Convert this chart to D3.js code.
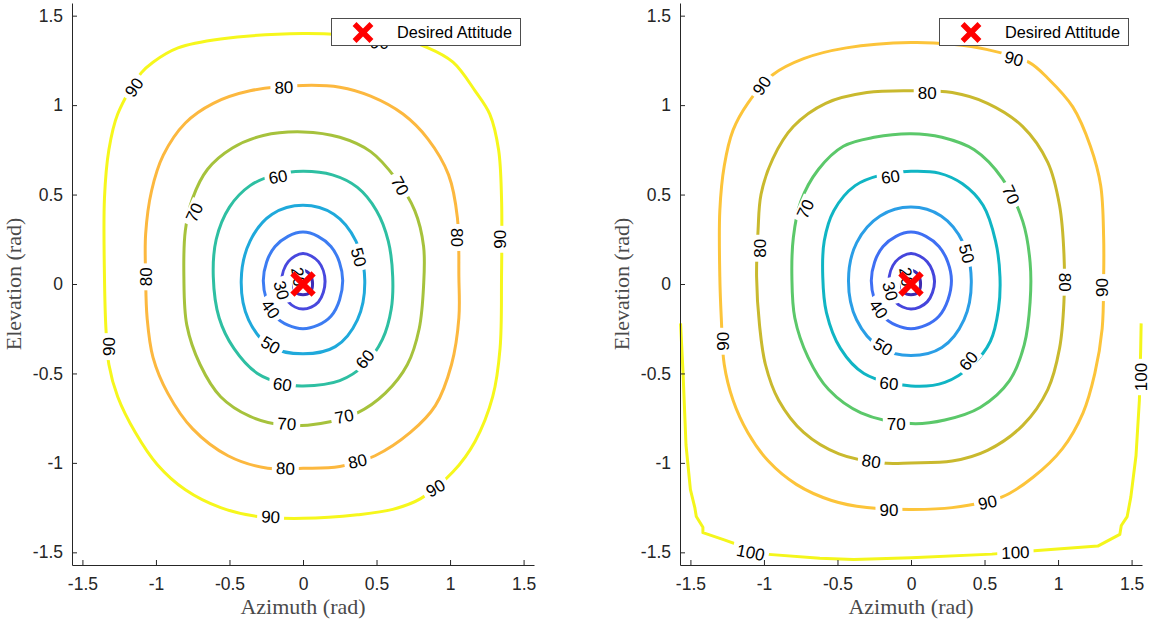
<!DOCTYPE html>
<html>
<head>
<meta charset="utf-8">
<script src="https://cdn.jsdelivr.net/npm/d3@7"></script>
<style>
  body { margin: 0; background: #fff; }
  svg { display: block; }
</style>
</head>
<body>
<svg id="chart" width="1152" height="623"></svg>
<script>
// ticks shared by both panels (rad)
var tickVals = [-1.5, -1, -0.5, 0, 0.5, 1, 1.5];
var tickText = ["-1.5", "-1", "-0.5", "0", "0.5", "1", "1.5"];

// desired attitude marker
var target = [0, 0];

// ---- left panel contours, [azimuth, elevation]
var L20 = [[0, 0.075], [0.05, 0.05], [0.065, 0], [0.05, -0.045], [0, -0.06], [-0.05, -0.045], [-0.065, 0], [-0.05, 0.05]];
var L30 = [[0, 0.17], [0.105, 0.125], [0.15, 0.015], [0.105, -0.10], [0, -0.14], [-0.10, -0.10], [-0.145, 0.015], [-0.10, 0.125]];
var L40 = [[0, 0.29], [0.19, 0.21], [0.27, 0.02], [0.19, -0.18], [0, -0.25], [-0.19, -0.18], [-0.27, 0.02], [-0.19, 0.21]];
var L50 = [[0, 0.44], [0.21, 0.39], [0.36, 0.24], [0.42, 0.02], [0.37, -0.20], [0.22, -0.35], [0, -0.39], [-0.22, -0.35],
    [-0.37, -0.20], [-0.42, 0.02], [-0.36, 0.24], [-0.21, 0.39]];
var L60 = [[0, 0.63], [0.20, 0.61], [0.37, 0.54], [0.50, 0.41], [0.58, 0.24], [0.61, 0.04], [0.60, -0.14], [0.54, -0.31], [0.42, -0.45],
    [0.25, -0.54], [0, -0.57], [-0.12, -0.56], [-0.31, -0.50], [-0.47, -0.36], [-0.57, -0.19], [-0.61, 0.04], [-0.59, 0.25],
    [-0.50, 0.43], [-0.36, 0.55], [-0.19, 0.61]];
var L70 = [[0, 0.85], [0.25, 0.82], [0.46, 0.74], [0.63, 0.59], [0.76, 0.41], [0.82, 0.21], [0.82, -0.01], [0.79, -0.25], [0.71, -0.45],
    [0.56, -0.61], [0.37, -0.72], [0.12, -0.78], [-0.12, -0.79], [-0.36, -0.74], [-0.56, -0.63], [-0.70, -0.45], [-0.79, -0.23],
    [-0.81, 0.04], [-0.80, 0.30], [-0.75, 0.48], [-0.65, 0.64], [-0.48, 0.76], [-0.27, 0.83]];
var L80 = [[0, 1.11], [0.25, 1.10], [0.46, 1.05], [0.68, 0.95], [0.85, 0.81], [0.99, 0.61], [1.05, 0.37], [1.06, 0.04], [1.06, -0.19],
    [1.01, -0.45], [0.90, -0.68], [0.73, -0.83], [0.49, -0.96], [0.25, -1.02], [0, -1.03], [-0.24, -1.03], [-0.51, -0.96],
    [-0.75, -0.81], [-0.92, -0.61], [-1.02, -0.41], [-1.06, -0.19], [-1.07, 0.04], [-1.07, 0.28], [-1.03, 0.52], [-0.95, 0.72],
    [-0.80, 0.90], [-0.61, 1.01], [-0.36, 1.08]];
var L90 = [[0, 1.40], [0.37, 1.39], [0.61, 1.38], [0.85, 1.32], [1.02, 1.24], [1.17, 1.08], [1.27, 0.95], [1.33, 0.75], [1.35, 0.48],
    [1.35, 0.04], [1.34, -0.36], [1.29, -0.63], [1.17, -0.88], [1.02, -1.05], [0.80, -1.20], [0.61, -1.26], [0.37, -1.29],
    [0, -1.31], [-0.31, -1.30], [-0.56, -1.25], [-0.80, -1.15], [-0.99, -1.01], [-1.14, -0.83], [-1.26, -0.63], [-1.32, -0.45],
    [-1.34, -0.25], [-1.35, 0.04], [-1.35, 0.48], [-1.32, 0.75], [-1.26, 0.95], [-1.10, 1.18], [-1.02, 1.24], [-0.85, 1.32],
    [-0.56, 1.37]];

// [level, azimuth, elevation, rotation deg]
var labelsL = [
    [90, 0.52, 1.35, 3], [90, -1.15, 1.10, -55], [90, 1.34, 0.25, -90], [90, -1.32, -0.35, -90], [90, 0.90, -1.14, -30], [90, -0.22, -1.30, 3],
    [80, -0.13, 1.10, -2], [80, 1.05, 0.26, 90], [80, -1.07, 0.04, -90], [80, -0.12, -1.03, 2], [80, 0.37, -0.99, -12],
    [70, -0.74, 0.40, -65], [70, 0.66, 0.55, 62], [70, -0.11, -0.78, 3], [70, 0.28, -0.74, -12],
    [60, -0.17, 0.60, -10], [60, -0.14, -0.56, 8], [60, 0.42, -0.42, -50],
    [50, 0.38, 0.15, 75], [50, -0.22, -0.34, 30],
    [40, -0.22, -0.14, 55],
    [30, -0.145, -0.035, 75],
    [20, -0.03, 0.04, 80]
];

// ---- right panel contours
var R20 = [[0, 0.075], [0.05, 0.05], [0.065, 0], [0.05, -0.045], [0, -0.06], [-0.05, -0.045], [-0.065, 0], [-0.05, 0.05]];
var R30 = [[0, 0.17], [0.11, 0.125], [0.16, 0.015], [0.11, -0.10], [0, -0.14], [-0.105, -0.10], [-0.15, 0.015], [-0.105, 0.125]];
var R40 = [[0, 0.29], [0.19, 0.21], [0.275, 0.02], [0.19, -0.18], [0, -0.25], [-0.19, -0.18], [-0.27, 0.02], [-0.19, 0.21]];
var R50 = [[0, 0.43], [0.205, 0.38], [0.355, 0.23], [0.41, 0.02], [0.36, -0.20], [0.21, -0.355], [0, -0.40], [-0.21, -0.355],
    [-0.37, -0.20], [-0.425, 0.02], [-0.37, 0.23], [-0.21, 0.38]];
var R60 = [[0, 0.63], [0.19, 0.62], [0.35, 0.56], [0.49, 0.44], [0.575, 0.24], [0.605, 0.04], [0.595, -0.14], [0.54, -0.32], [0.42, -0.45],
    [0.23, -0.55], [0, -0.57], [-0.32, -0.50], [-0.48, -0.36], [-0.575, -0.16], [-0.60, 0.04], [-0.59, 0.24], [-0.525, 0.41],
    [-0.38, 0.55], [-0.20, 0.61]];
var R70 = [[0, 0.84], [0.21, 0.82], [0.43, 0.75], [0.62, 0.59], [0.76, 0.35], [0.81, 0.12], [0.81, -0.10], [0.77, -0.34], [0.67, -0.54],
    [0.47, -0.69], [0.23, -0.76], [0, -0.78], [-0.34, -0.72], [-0.56, -0.59], [-0.70, -0.41], [-0.79, -0.19], [-0.81, 0.04],
    [-0.80, 0.26], [-0.75, 0.46], [-0.63, 0.64], [-0.46, 0.77], [-0.25, 0.82]];
var R80 = [[0, 1.08], [0.28, 1.07], [0.52, 1.01], [0.76, 0.88], [0.93, 0.68], [1.01, 0.44], [1.04, 0.17], [1.04, -0.10], [1.01, -0.36],
    [0.93, -0.59], [0.76, -0.79], [0.52, -0.93], [0.28, -0.99], [0, -1.00], [-0.20, -1.00], [-0.49, -0.95], [-0.73, -0.83],
    [-0.90, -0.65], [-0.99, -0.45], [-1.03, -0.23], [-1.05, 0.04], [-1.04, 0.30], [-1.02, 0.50], [-0.94, 0.70], [-0.80, 0.88],
    [-0.58, 1.01], [-0.30, 1.07]];
var R90 = [[0, 1.35], [0.28, 1.34], [0.52, 1.31], [0.80, 1.24], [0.93, 1.15], [1.10, 0.99], [1.22, 0.77], [1.29, 0.55], [1.31, 0.26],
    [1.31, 0.04], [1.30, -0.25], [1.25, -0.50], [1.17, -0.72], [1.03, -0.92], [0.83, -1.08], [0.62, -1.19], [0.28, -1.25],
    [0, -1.26], [-0.30, -1.25], [-0.54, -1.21], [-0.78, -1.12], [-0.97, -0.99], [-1.11, -0.83], [-1.21, -0.65], [-1.27, -0.45],
    [-1.29, -0.19], [-1.30, 0.04], [-1.30, 0.41], [-1.27, 0.66], [-1.21, 0.86], [-1.11, 1.01], [-0.94, 1.17], [-0.73, 1.26],
    [-0.44, 1.32]];
// open contour, runs off the left and right edges
var R100 = [[-1.567, -0.22], [-1.55, -0.50], [-1.53, -0.90], [-1.50, -1.15], [-1.47, -1.25], [-1.46, -1.30], [-1.415, -1.36],
    [-1.415, -1.39], [-1.27, -1.43], [-1.10, -1.48], [-0.99, -1.51], [-0.62, -1.533], [-0.39, -1.54], [0, -1.53], [0.55, -1.51],
    [0.86, -1.49], [1.27, -1.465], [1.42, -1.40], [1.43, -1.35], [1.47, -1.30], [1.495, -1.19], [1.53, -0.96], [1.553, -0.65],
    [1.562, -0.36], [1.565, -0.22]];

var labelsR = [
    [100, -1.09, -1.50, 12], [100, 0.71, -1.50, -2], [100, 1.565, -0.52, -90],
    [90, 0.70, 1.26, 15], [90, -1.015, 1.11, -55], [90, -1.28, -0.32, -90], [90, 1.30, -0.02, -90], [90, -0.15, -1.26, 0], [90, 0.52, -1.22, -12],
    [80, 0.11, 1.07, 0], [80, -1.03, 0.20, -90], [80, 1.05, 0.01, 90], [80, -0.27, -0.99, 8],
    [70, -0.72, 0.42, -65], [70, 0.68, 0.50, 65], [70, -0.10, -0.78, 0],
    [60, -0.14, 0.60, -8], [60, -0.15, -0.555, 5], [60, 0.39, -0.43, -50],
    [50, 0.38, 0.17, 75], [50, -0.19, -0.35, 30],
    [40, -0.22, -0.14, 55],
    [30, -0.14, -0.04, 75],
    [20, -0.03, 0.04, 80]
];

// parula-ish colours per level
var colorL = {20: "#3e2db8", 30: "#4848de", 40: "#3c7cf2", 50: "#1fa9db", 60: "#2ebfa2", 70: "#a6c23c", 80: "#fcb83f", 90: "#f6f71c"};
var colorR = {20: "#3e2bb0", 30: "#4545dc", 40: "#3e6ff3", 50: "#2a9ee6", 60: "#10b5c4", 70: "#5bc86a", 80: "#c9b92e", 90: "#fcc43a", 100: "#f4f61b"};

var svg = d3.select("#chart");
var top0 = 3, bot0 = 565;
var axisColor = "#262626";
var sans = "'Liberation Sans', Arial, Helvetica, sans-serif";
var serif = "'Liberation Serif', 'Times New Roman', serif";

function drawPanel(x0, x1, closed, open, labels, colors) {
    var x = d3.scaleLinear().domain([-Math.PI / 2, Math.PI / 2]).range([x0, x1]);
    var y = d3.scaleLinear().domain([-Math.PI / 2, Math.PI / 2]).range([bot0, top0]);
    var g = svg.append("g");

    var smooth = d3.line()
        .x(function (d) { return x(d[0]); })
        .y(function (d) { return y(d[1]); })
        .curve(d3.curveCatmullRomClosed.alpha(0.5));
    var straight = d3.line()
        .x(function (d) { return x(d[0]); })
        .y(function (d) { return y(d[1]); });

    g.append("g").selectAll("path")
        .data(closed)
        .enter().append("path")
        .attr("d", function (d) { return smooth(d[1]); })
        .attr("fill", "none")
        .attr("stroke", function (d) { return colors[d[0]]; })
        .attr("stroke-width", 3)
        .attr("stroke-linejoin", "round");

    g.append("g").selectAll("path")
        .data(open)
        .enter().append("path")
        .attr("d", function (d) { return straight(d[1]); })
        .attr("fill", "none")
        .attr("stroke", function (d) { return colors[d[0]]; })
        .attr("stroke-width", 3)
        .attr("stroke-linejoin", "round");

    // contour labels with a white gap cut into the line
    var lab = g.append("g").selectAll("g")
        .data(labels)
        .enter().append("g")
        .attr("transform", function (d) {
            return "translate(" + x(d[1]) + "," + y(d[2]) + ") rotate(" + d[3] + ")";
        });
    var bg = lab.append("rect").attr("fill", "#fff");
    var txt = lab.append("text")
        .attr("text-anchor", "middle")
        .attr("dy", "0.36em")
        .style("font-family", sans)
        .style("font-size", "17px")
        .attr("fill", "#000")
        .text(function (d) { return d[0]; });
    txt.each(function (d, i) {
        var w = this.getComputedTextLength() + 8;
        d3.select(bg.nodes()[i])
            .attr("x", -w / 2).attr("y", -7.5).attr("width", w).attr("height", 15);
    });

    // axes (box off, inward ticks)
    var xAxis = g.append("g")
        .attr("transform", "translate(0," + bot0 + ")")
        .call(d3.axisBottom(x).tickValues(tickVals)
            .tickFormat(function (d, i) { return tickText[i]; })
            .tickSizeInner(-5).tickSizeOuter(0).tickPadding(13));
    var yAxis = g.append("g")
        .attr("transform", "translate(" + x0 + ",0)")
        .call(d3.axisLeft(y).tickValues(tickVals)
            .tickFormat(function (d, i) { return tickText[i]; })
            .tickSizeInner(-5).tickSizeOuter(0).tickPadding(9));
    [xAxis, yAxis].forEach(function (a) {
        a.select(".domain").attr("stroke", axisColor);
        a.selectAll(".tick line").attr("stroke", axisColor);
        a.selectAll(".tick text")
            .attr("fill", axisColor)
            .style("font-family", sans)
            .style("font-size", "17.5px");
    });

    g.append("text")
        .attr("x", (x0 + x1) / 2)
        .attr("y", 614)
        .attr("text-anchor", "middle")
        .style("font-family", serif)
        .style("font-size", "22px")
        .attr("fill", "#4a4a4a")
        .text("Azimuth (rad)");
    g.append("text")
        .attr("transform", "translate(" + (x0 - 51) + "," + y(0) + ") rotate(-90)")
        .attr("text-anchor", "middle")
        .style("font-family", serif)
        .style("font-size", "22px")
        .attr("fill", "#4a4a4a")
        .text("Elevation (rad)");

    // desired attitude marker
    var cx = x(target[0]), cy = y(target[1]);
    drawCross(g, cx, cy, 8.5, 6);

    // legend
    var lx = x0 + 259, ly = 18;
    var leg = g.append("g");
    leg.append("rect")
        .attr("x", lx + 0.5).attr("y", ly + 0.5)
        .attr("width", 189).attr("height", 27)
        .attr("fill", "#fff")
        .attr("stroke", "#4d4d4d")
        .attr("stroke-width", 1);
    drawCross(leg, lx + 32, ly + 14.5, 6.5, 5.5);
    leg.append("text")
        .attr("x", lx + 66)
        .attr("y", ly + 20)
        .style("font-family", sans)
        .style("font-size", "16.3px")
        .attr("fill", "#000")
        .text("Desired Attitude");
}

function drawCross(g, cx, cy, r, w) {
    g.append("path")
        .attr("d", "M" + (cx - r) + "," + (cy - r) + "L" + (cx + r) + "," + (cy + r) +
            "M" + (cx - r) + "," + (cy + r) + "L" + (cx + r) + "," + (cy - r))
        .attr("stroke", "#ff0000")
        .attr("stroke-width", w)
        .attr("stroke-linecap", "square")
        .attr("fill", "none");
}

drawPanel(72, 534,
    [[20, L20], [30, L30], [40, L40], [50, L50], [60, L60], [70, L70], [80, L80], [90, L90]],
    [], labelsL, colorL);
drawPanel(680, 1142,
    [[20, R20], [30, R30], [40, R40], [50, R50], [60, R60], [70, R70], [80, R80], [90, R90]],
    [[100, R100]], labelsR, colorR);
</script>
</body>
</html>
